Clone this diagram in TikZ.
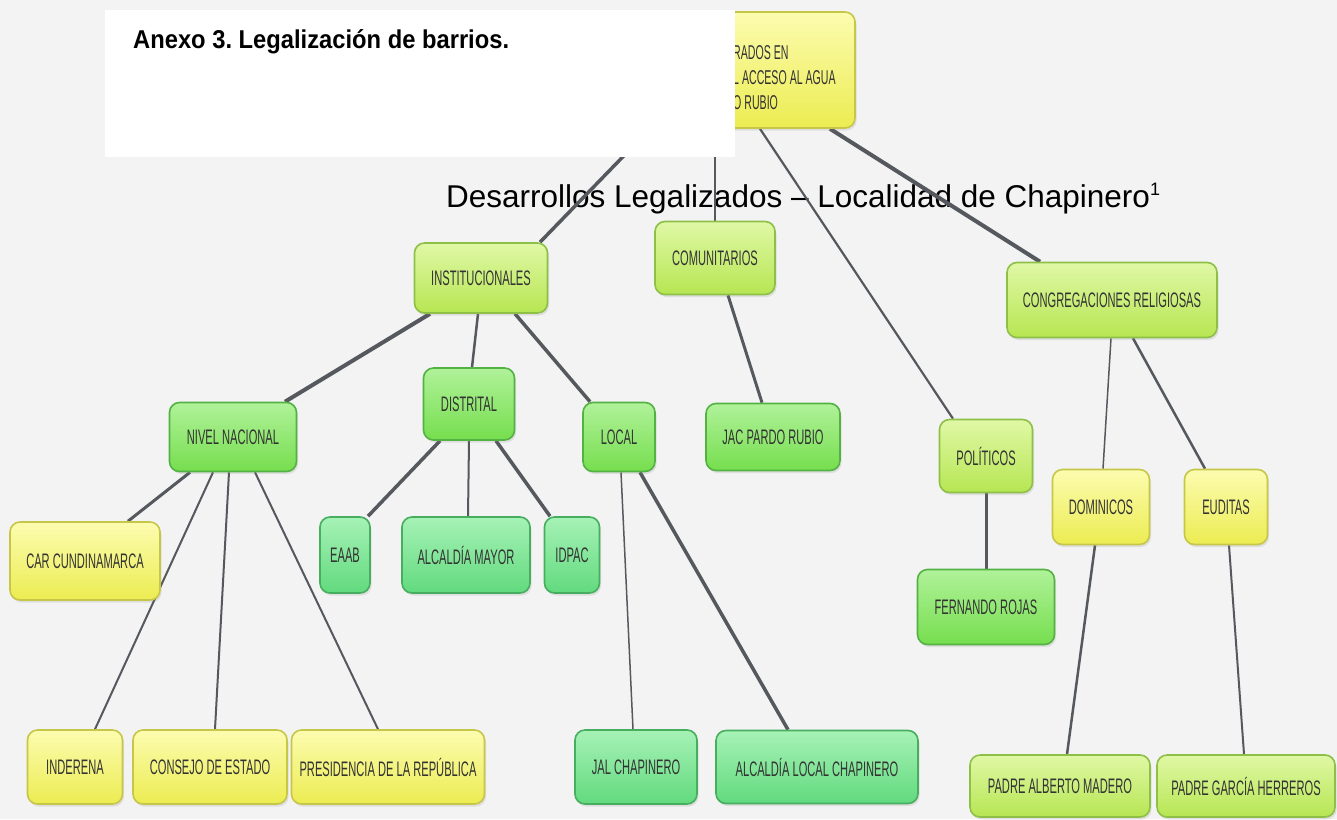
\documentclass[tikz,border=0pt]{standalone}
\usepackage{fontspec}
\setmainfont{Liberation Sans}
\newfontfamily\boxfont[FakeStretch=0.53]{Liberation Sans}
\newfontfamily\titlefont[FakeStretch=0.92]{Liberation Sans}
\usetikzlibrary{shadows}
\frenchspacing

\definecolor{paper}{HTML}{F3F3F3}
\definecolor{linkgrey}{HTML}{55595E}
\definecolor{yellowtop}{HTML}{FCFCB0}
\definecolor{yellowbot}{HTML}{ECEC52}
\definecolor{yellowedge}{HTML}{C6C648}
\definecolor{limetop}{HTML}{E0F8A6}
\definecolor{limebot}{HTML}{B6E652}
\definecolor{limeedge}{HTML}{8EC048}
\definecolor{greentop}{HTML}{B0F29A}
\definecolor{greenbot}{HTML}{76DE4E}
\definecolor{greenedge}{HTML}{54B244}
\definecolor{minttop}{HTML}{A6F2B6}
\definecolor{mintbot}{HTML}{62DA7E}
\definecolor{mintedge}{HTML}{46AE5E}

\pgfdeclarelayer{paperlayer}
\pgfdeclarelayer{linklayer}
\pgfsetlayers{paperlayer,linklayer,main}

\begin{document}
\begin{tikzpicture}[x=1pt, y=-1pt,
  box/.style={rounded corners=10pt, line width=1.6pt, inner sep=0pt, text=black!80,
    font=\boxfont\fontsize{21}{24}\selectfont,
    drop shadow={opacity=0.18, shadow xshift=1.5pt, shadow yshift=-2.5pt}},
  wh/.style 2 args={minimum width=#1pt, minimum height=#2pt},
  yellowbox/.style={box, draw=yellowedge, top color=yellowtop, bottom color=yellowbot},
  limebox/.style={box, draw=limeedge, top color=limetop, bottom color=limebot},
  greenbox/.style={box, draw=greenedge, top color=greentop, bottom color=greenbot},
  mintbox/.style={box, draw=mintedge, top color=minttop, bottom color=mintbot},
  link/.style={draw=linkgrey, line width=#1}, link/.default=2pt]

\begin{pgfonlayer}{paperlayer}
\fill[paper] (0,0) rectangle (1337,819);
\end{pgfonlayer}
\useasboundingbox (0,0) rectangle (1337,819);

% level 0
\node[yellowbox, wh={226}{116}] (root) at (742,70) {};
\node[anchor=west, align=left, inner sep=0pt, text=black!80,
  font=\boxfont\fontsize{20}{25}\selectfont] (rootlabel) at (733,78)
  {RADOS EN\\L ACCESO AL AGUA\\O RUBIO};

% level 1
\node[limebox, wh={133}{70}] (inst) at (481,278) {INSTITUCIONALES};
\node[limebox, wh={120}{73}] (comun) at (715,258) {COMUNITARIOS};
\node[limebox, wh={93}{73}] (poli) at (986,456) {POLÍTICOS};
\node[limebox, wh={210}{75}] (congreg) at (1112,300) {CONGREGACIONES RELIGIOSAS};

% level 2
\node[greenbox, wh={127}{69}] (nivel) at (233,437) {NIVEL NACIONAL};
\node[greenbox, wh={91}{72}] (distrital) at (469,404) {DISTRITAL};
\node[greenbox, wh={72}{69}] (local) at (619,437) {LOCAL};
\node[greenbox, wh={134}{67}] (jac) at (773,437) {JAC PARDO RUBIO};
\node[greenbox, wh={137}{75}] (fernando) at (986,607) {FERNANDO ROJAS};
\node[yellowbox, wh={97}{75}] (dominicos) at (1101,507) {DOMINICOS};
\node[yellowbox, wh={83}{75}] (euditas) at (1226,507) {EUDITAS};

% level 3
\node[yellowbox, wh={150}{78}] (car) at (85,561) {CAR CUNDINAMARCA};
\node[mintbox, wh={50}{76}] (eaab) at (345,555) {EAAB};
\node[mintbox, wh={128}{76}] (alcmayor) at (466,555) {ALCALDÍA MAYOR};
\node[mintbox, wh={55}{76}] (idpac) at (572,555) {IDPAC};

% level 4
\node[yellowbox, wh={95}{74}] (inderena) at (75,767) {INDERENA};
\node[yellowbox, wh={154}{74}] (consejo) at (210,767) {CONSEJO DE ESTADO};
\node[yellowbox, wh={193}{74}] (presidencia) at (388,767) {PRESIDENCIA DE LA REPÚBLICA};
\node[mintbox, wh={122}{74}] (jal) at (636,767) {JAL CHAPINERO};
\node[mintbox, wh={202}{73}] (alclocal) at (817,767) {ALCALDÍA LOCAL CHAPINERO};
\node[limebox, wh={180}{62}] (alberto) at (1060,786) {PADRE ALBERTO MADERO};
\node[limebox, wh={178}{62}] (garcia) at (1246,786) {PADRE GARCÍA HERREROS};

\begin{pgfonlayer}{linklayer}
\node[anchor=base west, inner sep=0pt, font=\fontsize{31.5}{36}\selectfont] (caption) at (446,207)
  {Desarrollos Legalizados -- Localidad de Chapinero\raisebox{12pt}{\fontsize{18}{18}\selectfont 1}};
\draw[link=3.5pt] ([xshift=-92pt]root.south) -- ([xshift=59pt]inst.north);
\draw[link=1.5pt] ([xshift=-27pt]root.south) -- (comun.north);
\draw[link=2.2pt] ([xshift=18pt]root.south) -- ([xshift=-33pt]poli.north);
\draw[link=4pt] ([xshift=88pt]root.south) -- ([xshift=-72pt]congreg.north);
\draw[link=4pt] ([xshift=-51pt]inst.south) -- ([xshift=52pt]nivel.north);
\draw[link=2.5pt] ([xshift=-3pt]inst.south) -- ([xshift=3pt]distrital.north);
\draw[link=3.5pt] ([xshift=34pt]inst.south) -- ([xshift=-29pt]local.north);
\draw[link=3pt] ([xshift=13pt]comun.south) -- ([xshift=-11pt]jac.north);
\draw[link=3.5pt] ([xshift=-29pt]distrital.south) -- ([xshift=23pt]eaab.north);
\draw[link=2pt] (distrital.south) -- ([xshift=2pt]alcmayor.north);
\draw[link=3.5pt] ([xshift=27pt]distrital.south) -- ([xshift=-22pt]idpac.north);
\draw[link=3pt] ([xshift=-43pt]nivel.south) -- ([xshift=43pt]car.north);
\draw[link=2pt] ([xshift=-20pt]nivel.south) -- ([xshift=20pt]inderena.north);
\draw[link=2pt] ([xshift=-4pt]nivel.south) -- ([xshift=5pt]consejo.north);
\draw[link=2pt] ([xshift=22pt]nivel.south) -- ([xshift=-10pt]presidencia.north);
\draw[link=1.5pt] ([xshift=2pt]local.south) -- ([xshift=-3pt]jal.north);
\draw[link=3.5pt] ([xshift=21pt]local.south) -- ([xshift=-29pt]alclocal.north);
\draw[link=3pt] (poli.south) -- (fernando.north);
\draw[link=1.5pt] ([xshift=-1pt]congreg.south) -- ([xshift=2pt]dominicos.north);
\draw[link=2.5pt] ([xshift=21pt]congreg.south) -- ([xshift=-21pt]euditas.north);
\draw[link=2.5pt] ([xshift=-6pt]dominicos.south) -- ([xshift=7pt]alberto.north);
\draw[link=2pt] ([xshift=3pt]euditas.south) -- ([xshift=-2pt]garcia.north);
\end{pgfonlayer}

% title sheet
\fill[white] (105,10) rectangle (735,157);
\node[anchor=base west, inner sep=0pt, font=\titlefont\bfseries\fontsize{25.8}{30}\selectfont] (title) at (133,48)
  {Anexo 3. Legalización de barrios.};
\end{tikzpicture}
\end{document}
